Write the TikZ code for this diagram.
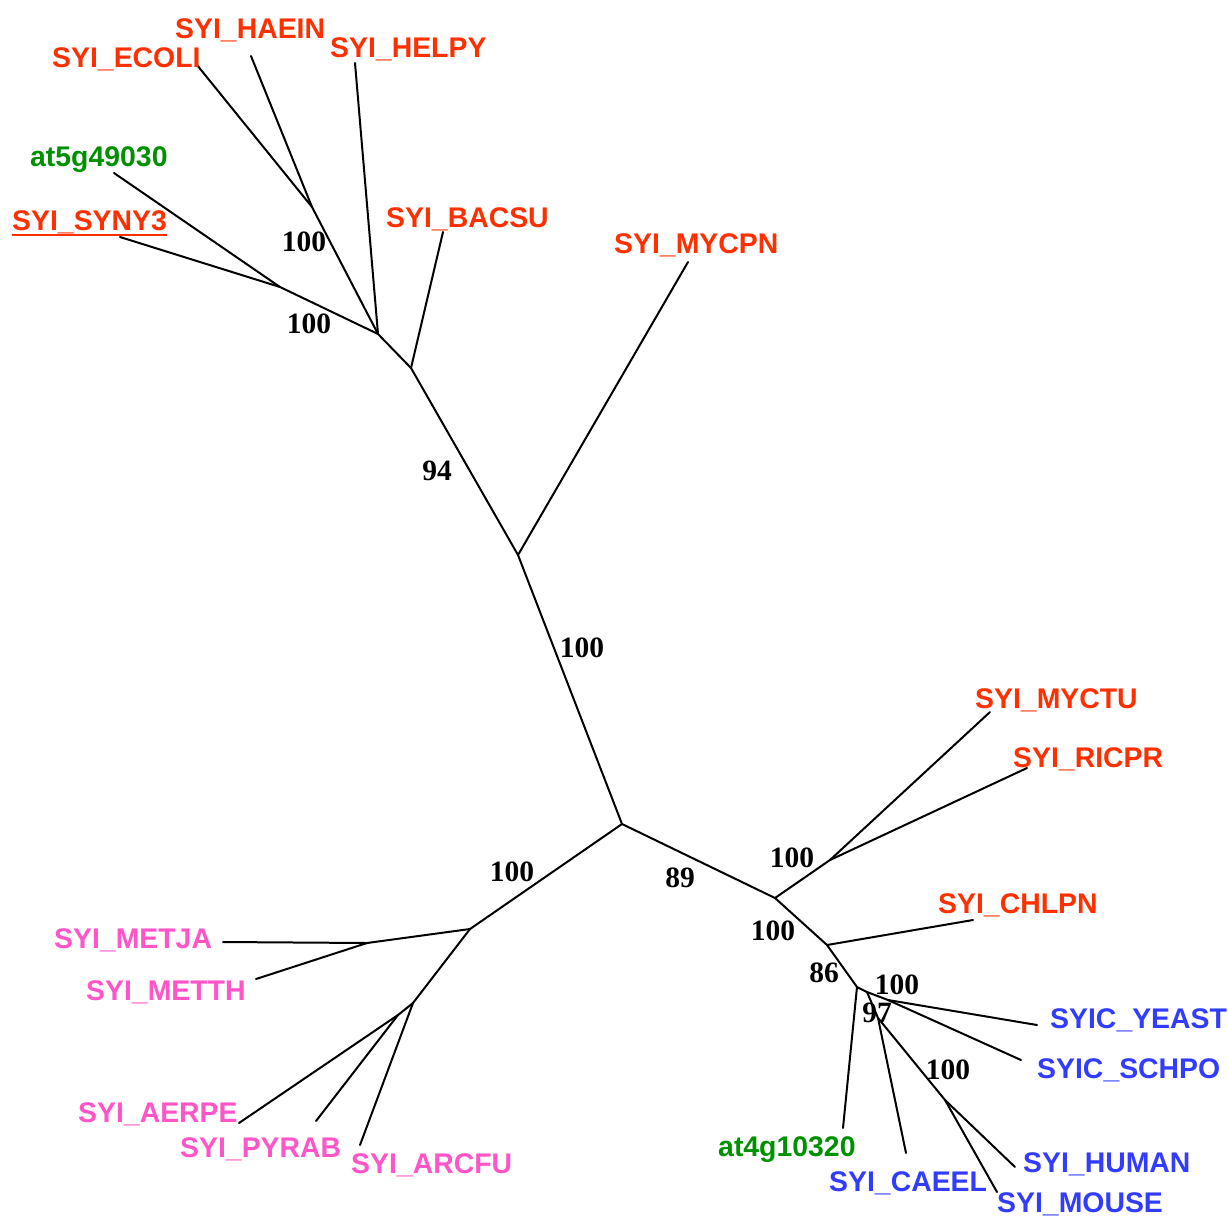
\documentclass[tikz,border=0pt]{standalone}
\usepackage{fontspec}
\setmainfont{Liberation Sans}
\newfontfamily\supportfont{Liberation Serif}
\definecolor{bactred}{RGB}{255,48,0}
\definecolor{plantgreen}{RGB}{0,145,0}
\definecolor{eukblue}{RGB}{50,60,255}
\definecolor{archpink}{RGB}{255,85,200}
\begin{document}
\begin{tikzpicture}[x=1pt,y=-1pt,
  branch/.style={line width=2pt,black,line cap=round,line join=round},
  taxon/.style={font=\fontsize{28.4}{31}\selectfont\bfseries,inner sep=0pt,anchor=base west},
  support/.style={font=\supportfont\fontsize{29.5}{32}\selectfont\bfseries,inner sep=0pt,black}]
\useasboundingbox (0,0) rectangle (1228,1218);
\fill[white] (0,0) rectangle (1228,1218);

% internal nodes
\coordinate (c0) at (622,824);
\coordinate (n1) at (518,555);
\coordinate (n2) at (411,368);
\coordinate (n3) at (378,334);
\coordinate (eh) at (312,207);
\coordinate (as) at (280,287);
\coordinate (n4) at (775,898);
\coordinate (mr) at (830,860);
\coordinate (n5) at (827,945);
\coordinate (n6) at (857,987);
\coordinate (n7) at (867,992);
\coordinate (ys) at (888,1000);
\coordinate (n8) at (878,1018);
\coordinate (hm) at (945,1100);
\coordinate (a1) at (470,929);
\coordinate (mm) at (367,943);
\coordinate (a2) at (413,1003);
\coordinate (ap) at (398,1015);

% leaf tips
\coordinate (tEcoli) at (197,65);
\coordinate (tHaein) at (251,56);
\coordinate (tHelpy) at (355,63);
\coordinate (tAt5) at (114,173);
\coordinate (tSyny) at (120,237);
\coordinate (tBacsu) at (443,232);
\coordinate (tMycpn) at (688,262);
\coordinate (tMyctu) at (990,712);
\coordinate (tRicpr) at (1027,768);
\coordinate (tChlpn) at (973,920);
\coordinate (tYeast) at (1037,1025);
\coordinate (tSchpo) at (1021,1060);
\coordinate (tHuman) at (1015,1167);
\coordinate (tMouse) at (997,1192);
\coordinate (tCaeel) at (906,1153);
\coordinate (tAt4) at (843,1128);
\coordinate (tMetja) at (223,942);
\coordinate (tMetth) at (256,979);
\coordinate (tAerpe) at (239,1123);
\coordinate (tPyrab) at (316,1121);
\coordinate (tArcfu) at (360,1145);

% branches
\draw[branch] (c0) -- (n1) -- (n2) -- (n3) -- (eh);
\draw[branch] (eh) -- (tEcoli);
\draw[branch] (eh) -- (tHaein);
\draw[branch] (n3) -- (tHelpy);
\draw[branch] (n3) -- (as);
\draw[branch] (as) -- (tAt5);
\draw[branch] (as) -- (tSyny);
\draw[branch] (n2) -- (tBacsu);
\draw[branch] (n1) -- (tMycpn);
\draw[branch] (c0) -- (n4) -- (mr);
\draw[branch] (mr) -- (tMyctu);
\draw[branch] (mr) -- (tRicpr);
\draw[branch] (n4) -- (n5) -- (tChlpn);
\draw[branch] (n5) -- (n6) -- (tAt4);
\draw[branch] (n6) -- (n7) -- (ys);
\draw[branch] (ys) -- (tYeast);
\draw[branch] (ys) -- (tSchpo);
\draw[branch] (n7) -- (n8) -- (tCaeel);
\draw[branch] (n8) -- (hm);
\draw[branch] (hm) -- (tHuman);
\draw[branch] (hm) -- (tMouse);
\draw[branch] (c0) -- (a1) -- (mm) -- (tMetja);
\draw[branch] (mm) -- (tMetth);
\draw[branch] (a1) -- (a2) -- (tArcfu);
\draw[branch] (a2) -- (ap);
\draw[branch] (ap) -- (tAerpe);
\draw[branch] (ap) -- (tPyrab);

% taxon labels
\node[taxon,text=bactred] (lEcoli) at (52,67) {SYI\_ECOLI};
\node[taxon,text=bactred] (lHaein) at (175,38) {SYI\_HAEIN};
\node[taxon,text=bactred] (lHelpy) at (330,57) {SYI\_HELPY};
\node[taxon,text=plantgreen] (lAt5) at (30,166) {at5g49030};
\node[taxon,text=bactred] (lSyny) at (12,230) {SYI\_SYNY3};
\draw[bactred,line width=2pt] ([yshift=-5pt]lSyny.base west) -- ([yshift=-5pt]lSyny.base east);
\node[taxon,text=bactred] (lBacsu) at (386,227) {SYI\_BACSU};
\node[taxon,text=bactred] (lMycpn) at (614,253) {SYI\_MYCPN};
\node[taxon,text=bactred] (lMyctu) at (975,708) {SYI\_MYCTU};
\node[taxon,text=bactred] (lRicpr) at (1013,767) {SYI\_RICPR};
\node[taxon,text=bactred] (lChlpn) at (938,913) {SYI\_CHLPN};
\node[taxon,text=eukblue] (lYeast) at (1050,1028) {SYIC\_YEAST};
\node[taxon,text=eukblue] (lSchpo) at (1037,1078) {SYIC\_SCHPO};
\node[taxon,text=eukblue] (lHuman) at (1023,1172) {SYI\_HUMAN};
\node[taxon,text=eukblue] (lMouse) at (997,1212) {SYI\_MOUSE};
\node[taxon,text=eukblue] (lCaeel) at (829,1191) {SYI\_CAEEL};
\node[taxon,text=plantgreen] (lAt4) at (718,1156) {at4g10320};
\node[taxon,text=archpink] (lMetja) at (54,948) {SYI\_METJA};
\node[taxon,text=archpink] (lMetth) at (86,1000) {SYI\_METTH};
\node[taxon,text=archpink] (lAerpe) at (78,1122) {SYI\_AERPE};
\node[taxon,text=archpink] (lPyrab) at (180,1157) {SYI\_PYRAB};
\node[taxon,text=archpink] (lArcfu) at (351,1173) {SYI\_ARCFU};

% bootstrap support values
\node[support] (s1) at (304,242) {100};
\node[support] (s2) at (309,324) {100};
\node[support] (s3) at (437,471) {94};
\node[support] (s4) at (582,648) {100};
\node[support] (s5) at (512,872) {100};
\node[support] (s6) at (680,878) {89};
\node[support] (s7) at (792,858) {100};
\node[support] (s8) at (773,931) {100};
\node[support] (s9) at (824,973) {86};
\node[support] (s10) at (897,985) {100};
\node[support] (s11) at (877,1013) {97};
\node[support] (s12) at (948,1070) {100};
\end{tikzpicture}
\end{document}
